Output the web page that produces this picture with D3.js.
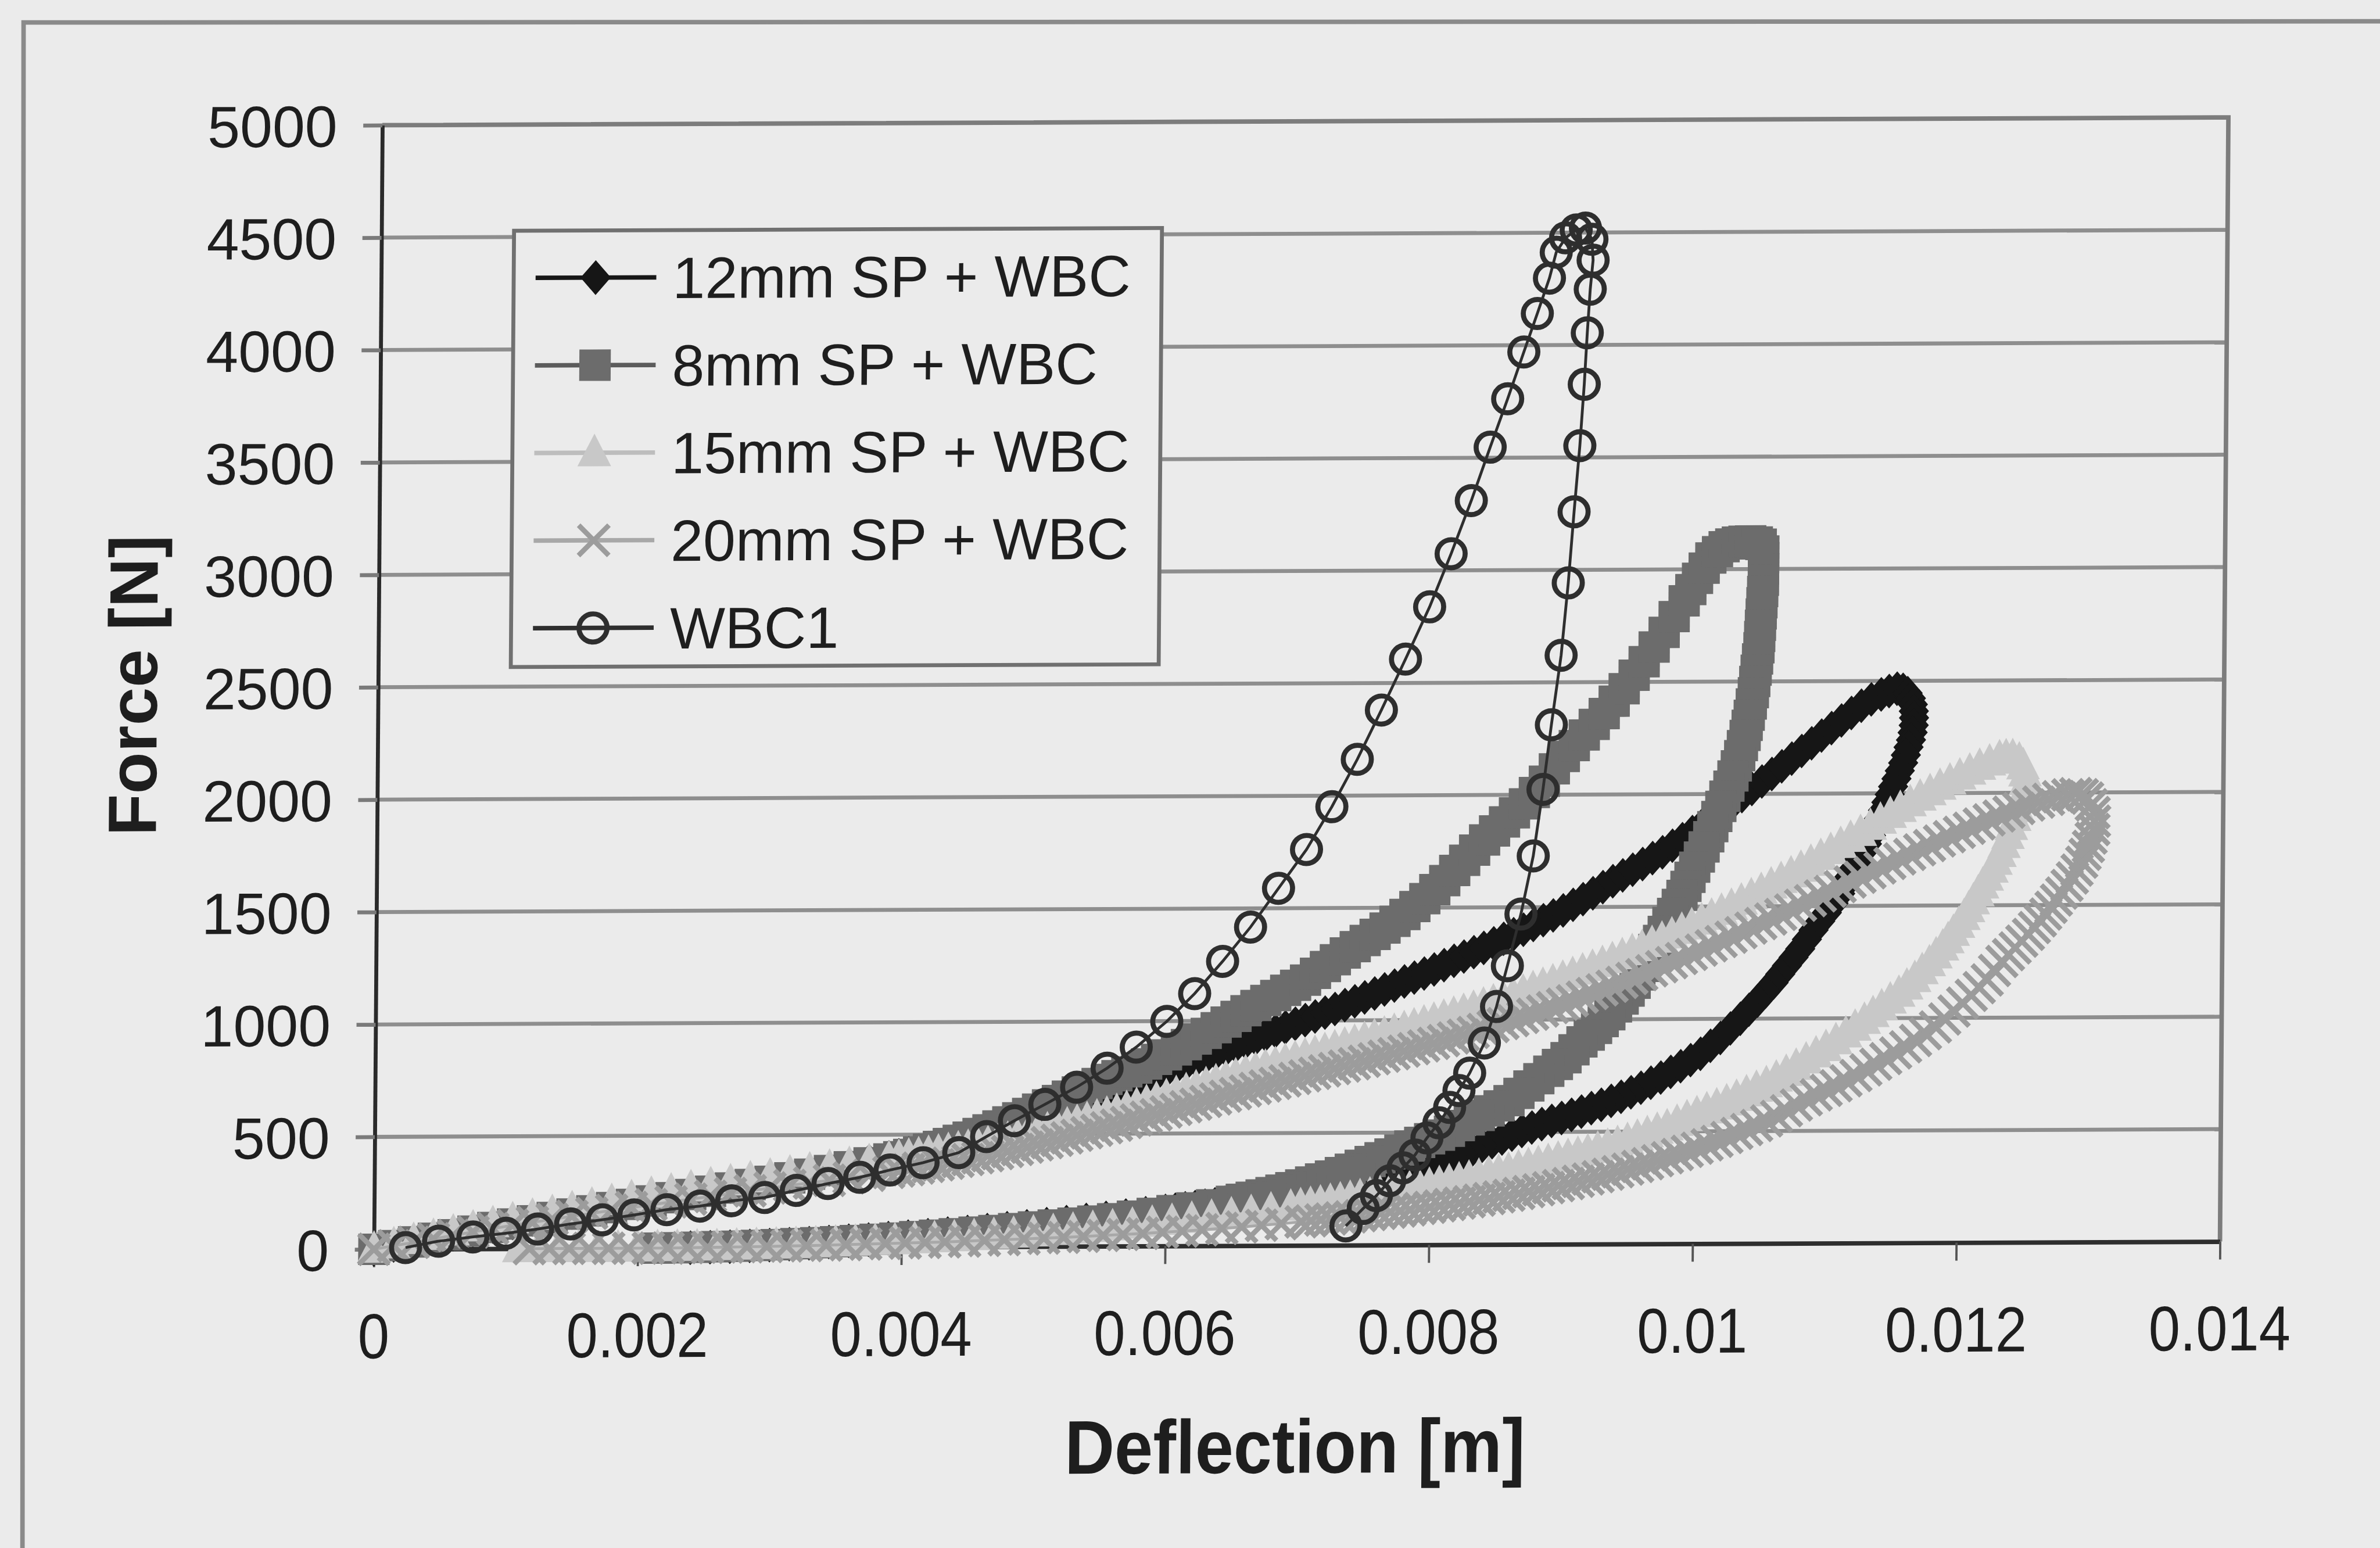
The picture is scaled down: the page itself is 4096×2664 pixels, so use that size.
<!DOCTYPE html>
<html>
<head>
<meta charset="utf-8">
<script src="https://cdn.jsdelivr.net/npm/d3@7"></script>
<style>
  html, body { margin: 0; padding: 0; background: #ebebeb; }
  svg { display: block; }
  text { font-family: "Liberation Sans", Arial, Helvetica, sans-serif; fill: #1e1e1e; }
</style>
</head>
<body>
<script>
// ---- axis ticks ----
const forceTicks = [0, 500, 1000, 1500, 2000, 2500, 3000, 3500, 4000, 4500, 5000];
const deflectionTicks = [0, 0.002, 0.004, 0.006, 0.008, 0.01, 0.012, 0.014];

// ---- series names ----
const seriesNames = ["12mm SP + WBC", "8mm SP + WBC", "15mm SP + WBC", "20mm SP + WBC", "WBC1"];

// ---- force [N] vs deflection [m], loading then unloading ----
const sp12 = [[0,0],[0.00015,17],[0.0003,33],[0.00045,50],[0.0006,66],[0.00075,83],[0.0009,99],[0.00105,115],[0.0012,130],[0.00135,145],[0.0015,160],[0.00165,175],[0.0018,190],[0.00195,205],[0.0021,219],[0.00225,233],[0.0024,246],[0.00255,260],[0.0027,273],[0.00285,287],[0.003,300],[0.00315,316],[0.0033,332],[0.00345,348],[0.0036,365],[0.00375,382],[0.0039,399],
[0.003975,408],[0.00405,417],[0.004125,428],[0.0042,440],[0.004275,451],[0.00435,462],[0.004425,473],[0.0045,485],[0.004575,499],[0.00465,513],[0.004725,527],[0.0048,542],[0.004875,557],[0.00495,572],[0.005025,586],[0.0051,600],[0.005175,615],[0.00525,630],[0.005325,644],[0.0054,658],[0.005475,672],[0.00555,686],[0.005625,700],[0.0057,715],[0.005775,730],[0.00585,746],[0.005925,762],[0.006,778],[0.006075,794],[0.00615,810],[0.006225,825],[0.0063,840],[0.006375,856],[0.00645,872],[0.006525,888],[0.0066,905],[0.006675,921],[0.00675,938],[0.006825,954],[0.0069,970],[0.006975,986],[0.00705,1002],[0.007125,1018],[0.0072,1035],[0.007275,1051],[0.00735,1068],[0.007425,1085],[0.0075,1102],[0.007575,1119],[0.00765,1137],[0.007725,1154],[0.0078,1172],[0.007875,1189],[0.00795,1207],[0.008025,1225],[0.0081,1244],[0.008175,1263],[0.00825,1282],[0.008325,1301],[0.0084,1320],[0.008475,1340],[0.00855,1360],[0.008625,1380],[0.0087,1400],[0.008775,1421],[0.00885,1442],[0.008925,1463],[0.009,1485],[0.009075,1510],[0.00915,1535],[0.009225,1561],[0.0093,1588],[0.009375,1614],[0.00945,1640],[0.009525,1665],[0.0096,1690],[0.009675,1716],[0.00975,1742],[0.009825,1771],[0.0099,1800],[0.009975,1831],[0.01005,1862],[0.010125,1893],[0.0102,1925],[0.010275,1957],[0.01035,1990],[0.010425,2022],[0.0105,2055],[0.010575,2088],[0.01065,2122],[0.010725,2156],[0.0108,2190],[0.010875,2224],[0.01095,2258],[0.011025,2291],[0.0111,2325],[0.011175,2358],[0.01125,2390],[0.011325,2418],[0.0114,2440],[0.01146,2455],[0.01152,2465],[0.011565,2460],[0.0116,2445],[0.011625,2422],[0.01164,2395],[0.011648,2365],[0.01165,2335],[0.011648,2302],[0.01164,2270],[0.011628,2237],[0.01161,2205],[0.01159,2170],[0.01157,2135],[0.011545,2100],[0.01152,2065],[0.011495,2030],[0.01147,1995],[0.011445,1960],[0.01142,1925],[0.01139,1888],[0.01136,1850],[0.01133,1812],[0.0113,1775],[0.011265,1738],[0.01123,1700],[0.0112,1665],[0.01117,1630],[0.011135,1592],[0.0111,1555],[0.01105,1512],[0.011,1470],[0.01095,1432],[0.0109,1393],[0.01085,1352],[0.0108,1310],[0.01075,1272],[0.0107,1235],[0.01065,1198],[0.0106,1160],[0.01054,1120],[0.01048,1080],[0.010415,1040],[0.01035,1000],[0.010275,957],[0.0102,915],[0.010125,880],[0.01005,845],[0.009975,817],[0.0099,790],[0.009825,765],[0.00975,740],[0.009675,717],[0.0096,695],[0.009525,675],[0.00945,655],[0.009375,637],[0.0093,620],[0.009225,605],[0.00915,590],[0.009075,576],[0.009,562],[0.008925,549],[0.00885,535],[0.008775,520],[0.0087,505],[0.008625,489],[0.00855,472],[0.008475,456],[0.0084,440],[0.008325,422],[0.00825,405],[0.008175,390],[0.0081,375],[0.008025,362],[0.00795,350],[0.007875,339],[0.0078,328],[0.007725,319],[0.00765,310],[0.007575,301],[0.0075,292],[0.007425,283],[0.00735,275],[0.007275,266],[0.0072,258],[0.007125,250],[0.00705,242],[0.006975,235],[0.0069,228],[0.006825,221],[0.00675,215],[0.006675,208],[0.0066,202],[0.006525,196],[0.00645,190],[0.006375,184],[0.0063,178],[0.006225,172],[0.00615,167],[0.006075,161],[0.006,156],[0.00585,146],[0.0057,136],[0.00555,126],[0.0054,117],[0.00525,108],[0.0051,99],[0.00495,90],[0.0048,82],[0.00465,74],[0.0045,66],[0.00435,59],[0.0042,52],[0.00405,46],[0.0039,40],[0.00375,34],[0.0036,29],[0.00345,24],[0.0033,19],[0.00315,15],[0.003,11],[0.00285,8],[0.0027,5],[0.00255,3],[0.0024,1]];

const sp8 = [[0,0],[0.00015,16],[0.0003,32],[0.00045,48],[0.0006,63],[0.00075,79],[0.0009,95],[0.00105,110],[0.0012,124],[0.00135,138],[0.0015,153],[0.00165,167],[0.0018,181],[0.00195,195],[0.0021,210],[0.00225,224],[0.0024,238],[0.00255,252],[0.0027,266],[0.00285,281],[0.003,295],[0.00315,310],[0.0033,326],[0.00345,342],[0.0036,358],[0.00375,375],[0.0039,392],
[0.003975,402],[0.00405,412],[0.004125,423],[0.0042,435],[0.004275,447],[0.00435,460],[0.004425,474],[0.0045,488],[0.004575,504],[0.00465,520],[0.004725,537],[0.0048,555],[0.004875,573],[0.00495,592],[0.005025,611],[0.0051,630],[0.005175,649],[0.00525,668],[0.005325,687],[0.0054,706],[0.005475,724],[0.00555,742],[0.005625,758],[0.0057,775],[0.005775,792],[0.00585,810],[0.005925,830],[0.006,850],[0.006075,872],[0.00615,895],[0.006225,920],[0.0063,945],[0.006375,970],[0.00645,995],[0.006525,1020],[0.0066,1045],[0.006675,1068],[0.00675,1090],[0.006825,1112],[0.0069,1135],[0.006975,1157],[0.00705,1180],[0.007125,1210],[0.0072,1240],[0.007275,1270],[0.00735,1300],[0.007425,1328],[0.0075,1355],[0.007575,1382],[0.00765,1410],[0.007725,1440],[0.0078,1470],[0.007875,1505],[0.00795,1540],[0.008025,1580],[0.0081,1620],[0.008175,1665],[0.00825,1710],[0.008325,1755],[0.0084,1800],[0.008475,1840],[0.00855,1880],[0.008625,1920],[0.0087,1960],[0.008775,2010],[0.00885,2060],[0.008925,2115],[0.009,2170],[0.009075,2218],[0.00915,2265],[0.009225,2312],[0.0093,2360],[0.009375,2415],[0.00945,2470],[0.009525,2530],[0.0096,2590],[0.009675,2655],[0.00975,2720],[0.009825,2790],[0.0099,2860],[0.00995,2910],[0.01,2960],[0.01005,3005],[0.0101,3050],[0.01015,3078],[0.0102,3100],[0.01025,3112],[0.0103,3120],[0.01035,3124],[0.0104,3125],[0.01045,3120],[0.01048,3110],[0.0105,3080],[0.0105,3050],[0.0105,3000],[0.0105,2950],[0.010495,2900],[0.01049,2850],[0.010485,2800],[0.01048,2750],[0.010475,2700],[0.01047,2650],[0.01046,2600],[0.01045,2550],[0.01044,2500],[0.01043,2450],[0.010415,2400],[0.0104,2350],[0.010385,2305],[0.01037,2260],[0.01035,2215],[0.01033,2170],[0.010305,2125],[0.01028,2080],[0.01025,2035],[0.01022,1990],[0.01019,1945],[0.01016,1900],[0.01013,1855],[0.0101,1810],[0.010065,1765],[0.01003,1720],[0.009995,1675],[0.00996,1630],[0.00993,1590],[0.0099,1550],[0.009865,1510],[0.00983,1470],[0.009795,1430],[0.00976,1390],[0.009725,1350],[0.00969,1310],[0.009655,1272],[0.00962,1235],[0.009585,1197],[0.00955,1160],[0.009505,1125],[0.00946,1090],[0.00941,1055],[0.00936,1020],[0.00931,990],[0.00926,960],[0.009205,930],[0.00915,900],[0.00909,865],[0.00903,830],[0.008965,800],[0.0089,770],[0.008825,737],[0.00875,705],[0.008675,672],[0.0086,640],[0.008525,617],[0.00845,595],[0.008375,575],[0.0083,555],[0.008225,530],[0.00815,505],[0.008075,488],[0.008,472],[0.007925,456],[0.00785,440],[0.007775,422],[0.0077,405],[0.007625,388],[0.00755,372],[0.007475,355],[0.0074,338],[0.007325,323],[0.00725,308],[0.007175,295],[0.0071,282],[0.007025,269],[0.00695,257],[0.006875,246],[0.0068,235],[0.006725,225],[0.00665,215],[0.006575,206],[0.0065,197],[0.00635,182],[0.0062,169],[0.00605,157],[0.0059,145],[0.00575,133],[0.0056,122],[0.00545,112],[0.0053,103],[0.00515,95],[0.005,87],[0.00485,80],[0.0047,72],[0.00455,65],[0.0044,58],[0.00425,52],[0.0041,46],[0.00395,40],[0.0038,35],[0.00365,30],[0.0035,25],[0.00335,21],[0.0032,17],[0.00305,13],[0.0029,10],[0.00275,7],[0.0026,5],[0.00245,3],[0.0023,1],[0.00215,0]];

const sp15 = [[0,0],[0.00015,19],[0.0003,38],[0.00045,56],[0.0006,75],[0.00075,93],[0.0009,111],[0.00105,128],[0.0012,144],[0.00135,160],[0.0015,176],[0.00165,192],[0.0018,208],[0.00195,224],[0.0021,239],[0.00225,253],[0.0024,267],[0.00255,280],[0.0027,293],[0.00285,306],[0.003,318],[0.00315,331],[0.0033,344],[0.00345,356],[0.0036,368],[0.00375,380],[0.0039,392],
[0.003975,398],[0.00405,404],[0.004125,410],[0.0042,416],[0.004275,422],[0.00435,428],[0.004425,435],[0.0045,442],[0.004575,450],[0.00465,458],[0.004725,467],[0.0048,477],[0.004875,487],[0.00495,497],[0.005025,507],[0.0051,518],[0.005175,529],[0.00525,540],[0.005325,551],[0.0054,563],[0.005475,575],[0.00555,587],[0.005625,599],[0.0057,612],[0.005775,625],[0.00585,638],[0.005925,651],[0.006,664],[0.006075,677],[0.00615,690],[0.006225,703],[0.0063,716],[0.006375,729],[0.00645,742],[0.006525,755],[0.0066,768],[0.006675,780],[0.00675,793],[0.006825,805],[0.0069,818],[0.006975,830],[0.00705,842],[0.007125,854],[0.0072,866],[0.007275,878],[0.00735,890],[0.007425,902],[0.0075,914],[0.007575,926],[0.00765,938],[0.007725,950],[0.0078,962],[0.007875,974],[0.00795,987],[0.008025,999],[0.0081,1012],[0.008175,1025],[0.00825,1038],[0.008325,1051],[0.0084,1065],[0.008475,1079],[0.00855,1093],[0.008625,1107],[0.0087,1122],[0.008775,1137],[0.00885,1152],[0.008925,1167],[0.009,1183],[0.009075,1199],[0.00915,1215],[0.009225,1231],[0.0093,1248],[0.009375,1265],[0.00945,1282],[0.009525,1300],[0.0096,1318],[0.009675,1336],[0.00975,1355],[0.009825,1374],[0.0099,1394],[0.009975,1414],[0.01005,1435],[0.010125,1456],[0.0102,1478],[0.010275,1500],[0.01035,1523],[0.010425,1546],[0.0105,1570],[0.010575,1594],[0.01065,1618],[0.010725,1643],[0.0108,1668],[0.010875,1694],[0.01095,1720],[0.011025,1746],[0.0111,1773],[0.011175,1800],[0.01125,1826],[0.011325,1853],[0.0114,1880],[0.011475,1906],[0.01155,1932],[0.011625,1957],[0.0117,1982],[0.011775,2006],[0.01185,2030],[0.011925,2053],[0.012,2075],[0.012075,2097],[0.01215,2118],[0.012225,2137],[0.0123,2155],[0.01235,2160],[0.0124,2160],[0.01245,2145],[0.01248,2120],[0.012495,2088],[0.0125,2050],[0.01249,2010],[0.01247,1970],[0.012445,1930],[0.01242,1890],[0.012395,1850],[0.01237,1810],[0.01234,1770],[0.01231,1730],[0.01228,1695],[0.01225,1660],[0.012215,1625],[0.01218,1590],[0.012145,1555],[0.01211,1520],[0.012075,1485],[0.01204,1450],[0.012,1415],[0.01196,1380],[0.01192,1347],[0.01188,1315],[0.01183,1280],[0.01178,1245],[0.011725,1210],[0.01167,1175],[0.01161,1142],[0.01155,1110],[0.011485,1080],[0.01142,1050],[0.011355,1020],[0.01129,990],[0.01122,960],[0.01115,930],[0.011075,900],[0.011,870],[0.010925,842],[0.01085,815],[0.010775,787],[0.0107,760],[0.010625,735],[0.01055,710],[0.010475,690],[0.0104,670],[0.010325,650],[0.01025,630],[0.010175,612],[0.0101,595],[0.010025,578],[0.00995,560],[0.009875,540],[0.0098,520],[0.009725,505],[0.00965,490],[0.009575,475],[0.0095,460],[0.009425,447],[0.00935,435],[0.009275,422],[0.0092,410],[0.009125,400],[0.00905,390],[0.008975,379],[0.0089,368],[0.008825,359],[0.00875,350],[0.008675,340],[0.0086,330],[0.008525,321],[0.00845,313],[0.008375,304],[0.0083,296],[0.008225,288],[0.00815,280],[0.008075,272],[0.008,265],[0.007925,257],[0.00785,250],[0.007775,243],[0.0077,236],[0.007625,229],[0.00755,222],[0.007475,215],[0.0074,208],[0.007325,201],[0.00725,195],[0.007175,188],[0.0071,182],[0.007025,176],[0.00695,170],[0.0068,158],[0.00665,147],[0.0065,137],[0.00635,127],[0.0062,118],[0.00605,109],[0.0059,101],[0.00575,93],[0.0056,86],[0.00545,79],[0.0053,72],[0.00515,66],[0.005,60],[0.00485,55],[0.0047,50],[0.00455,45],[0.0044,40],[0.00425,36],[0.0041,32],[0.00395,28],[0.0038,25],[0.00365,22],[0.0035,19],[0.00335,16],[0.0032,13],[0.00305,11],[0.0029,9],[0.00275,7],[0.0026,5],[0.00245,4],[0.0023,3],[0.00215,2],[0.002,1],[0.00185,0],[0.0017,0],[0.00155,0],[0.0014,0],[0.00125,0],[0.0011,0]];

const sp20 = [[0,0],[0.00015,15],[0.0003,30],[0.00045,45],[0.0006,60],[0.00075,75],[0.0009,90],[0.00105,104],[0.0012,117],[0.00135,130],[0.0015,143],[0.00165,156],[0.0018,169],[0.00195,181],[0.0021,193],[0.00225,205],[0.0024,217],[0.00255,229],[0.0027,241],[0.00285,253],[0.003,265],[0.00315,276],[0.0033,287],[0.00345,298],[0.0036,309],[0.00375,320],[0.0039,332],
[0.003975,338],[0.00405,344],[0.004125,351],[0.0042,358],[0.004275,365],[0.00435,372],[0.004425,380],[0.0045,388],[0.004575,396],[0.00465,405],[0.004725,414],[0.0048,423],[0.004875,432],[0.00495,442],[0.005025,452],[0.0051,462],[0.005175,472],[0.00525,483],[0.005325,494],[0.0054,505],[0.005475,516],[0.00555,527],[0.005625,538],[0.0057,550],[0.005775,561],[0.00585,573],[0.005925,584],[0.006,596],[0.006075,607],[0.00615,619],[0.006225,630],[0.0063,642],[0.006375,653],[0.00645,665],[0.006525,676],[0.0066,688],[0.006675,699],[0.00675,710],[0.006825,721],[0.0069,732],[0.006975,743],[0.00705,754],[0.007125,765],[0.0072,776],[0.007275,786],[0.00735,797],[0.007425,807],[0.0075,818],[0.007575,829],[0.00765,840],[0.007725,851],[0.0078,862],[0.007875,873],[0.00795,885],[0.008025,896],[0.0081,908],[0.008175,920],[0.00825,932],[0.008325,944],[0.0084,957],[0.008475,970],[0.00855,983],[0.008625,996],[0.0087,1010],[0.008775,1024],[0.00885,1038],[0.008925,1053],[0.009,1068],[0.009075,1083],[0.00915,1099],[0.009225,1115],[0.0093,1131],[0.009375,1147],[0.00945,1164],[0.009525,1181],[0.0096,1198],[0.009675,1215],[0.00975,1233],[0.009825,1251],[0.0099,1269],[0.009975,1287],[0.01005,1306],[0.010125,1325],[0.0102,1344],[0.010275,1363],[0.01035,1383],[0.010425,1403],[0.0105,1423],[0.010575,1443],[0.01065,1463],[0.010725,1483],[0.0108,1504],[0.010875,1524],[0.01095,1545],[0.011025,1565],[0.0111,1586],[0.011175,1606],[0.01125,1627],[0.011325,1647],[0.0114,1668],[0.011475,1688],[0.01155,1708],[0.011625,1728],[0.0117,1748],[0.011775,1767],[0.01185,1787],[0.011925,1806],[0.012,1825],[0.012075,1843],[0.01215,1862],[0.012225,1880],[0.0123,1897],[0.012375,1914],[0.01245,1930],[0.012525,1945],[0.0126,1958],[0.012675,1970],[0.01275,1982],[0.01282,1990],[0.01288,1995],[0.01293,1990],[0.01297,1975],[0.013,1945],[0.01302,1910],[0.013025,1872],[0.01302,1835],[0.013,1797],[0.01298,1760],[0.012955,1725],[0.01293,1690],[0.012895,1655],[0.01286,1620],[0.01282,1587],[0.01278,1553],[0.01274,1522],[0.0127,1490],[0.01266,1460],[0.01262,1430],[0.012575,1400],[0.01253,1370],[0.01248,1340],[0.01243,1310],[0.01238,1280],[0.01233,1250],[0.012275,1210],[0.01222,1168],[0.01216,1134],[0.0121,1100],[0.012035,1065],[0.01197,1030],[0.0119,995],[0.01183,960],[0.011755,930],[0.01168,900],[0.011605,872],[0.01153,845],[0.011455,820],[0.01138,795],[0.011305,770],[0.01123,745],[0.011155,722],[0.01108,700],[0.011005,680],[0.01093,660],[0.010855,638],[0.01078,615],[0.010705,590],[0.01063,565],[0.010555,545],[0.01048,525],[0.010405,507],[0.01033,490],[0.010255,472],[0.01018,455],[0.010105,440],[0.01003,425],[0.009955,411],[0.00988,397],[0.009805,383],[0.00973,370],[0.009655,357],[0.00958,345],[0.009505,333],[0.00943,322],[0.009355,311],[0.00928,300],[0.009205,290],[0.00913,280],[0.009055,270],[0.00898,261],[0.008905,252],[0.00883,243],[0.008755,235],[0.00868,227],[0.008605,219],[0.00853,212],[0.008455,205],[0.00838,198],[0.008305,191],[0.00823,185],[0.008155,179],[0.00808,173],[0.008005,167],[0.00793,162],[0.007855,156],[0.00778,151],[0.007705,146],[0.00763,141],[0.007555,136],[0.00748,131],[0.007405,126],[0.00733,122],[0.007255,117],[0.00718,113],[0.007105,109],[0.00703,105],[0.00688,97],[0.00673,90],[0.00658,83],[0.00643,77],[0.00628,71],[0.00613,66],[0.00598,61],[0.00583,56],[0.00568,52],[0.00553,48],[0.00538,44],[0.00523,40],[0.00508,37],[0.00493,34],[0.00478,31],[0.00463,28],[0.00448,25],[0.00433,22],[0.00418,20],[0.00403,18],[0.00388,16],[0.00373,14],[0.00358,12],[0.00343,10],[0.00328,8],[0.00313,7],[0.00298,5],[0.00283,4],[0.00268,3],[0.00253,2],[0.00238,1],[0.00223,0],[0.00208,0],[0.00193,0],[0.00178,0],[0.00163,0],[0.00148,0],[0.00133,0],[0.00118,0]];

const wbc1 = [[0.00024,7],[0.00049,35],[0.00075,53],[0.001,69],[0.00124,87],[0.00149,109],[0.00173,127],[0.00197,148],[0.00222,171],[0.00247,186],[0.00271,209],[0.00296,223],[0.0032,254],[0.00344,284],[0.00368,311],[0.00391,343],[0.00416,375],[0.00443,419],[0.00464,490],[0.00485,560],[0.00508,632],[0.00532,708],[0.00555,792],[0.00577,885],[0.006,999],[0.00621,1122],[0.00642,1265],[0.00663,1417],[0.00684,1589],[0.00705,1761],[0.00724,1951],[0.00743,2161],[0.00761,2380],[0.00779,2606],[0.00797,2838],[0.00813,3074],[0.00828,3310],[0.00842,3547],[0.00855,3762],[0.00867,3970],[0.00877,4141],[0.00886,4298],[0.00891,4413],[0.00898,4477],[0.00906,4512],[0.00913,4520],[0.00918,4470],[0.00919,4377],[0.00917,4248],[0.00915,4054],[0.00913,3825],[0.0091,3552],[0.00906,3258],[0.00902,2942],[0.00897,2620],[0.0089,2311],[0.00884,2024],[0.00877,1728],[0.00868,1470],[0.00858,1240],[0.0085,1059],[0.00841,897],[0.0083,763],[0.00822,686],[0.00815,611],[0.00807,543],[0.00798,476],[0.00789,400],[0.0078,343],[0.0077,286],[0.0076,220],[0.0075,163],[0.00737,86]];

// ---- layout (drawn at the source size, then scaled to the window) ----
const SRC_W = 4239, SRC_H = 2757;
const k = 4096 / SRC_W;
const PW = 3288, PH = 2002;           // plot area
const FONT = '"Liberation Sans", Arial, Helvetica, sans-serif';

const svg = d3.select("body").append("svg")
  .attr("width", 4096).attr("height", 2664)
  .attr("viewBox", "0 0 4096 2664");

const root = svg.append("g").attr("transform", `scale(${k})`);

root.append("rect").attr("width", SRC_W).attr("height", SRC_H).attr("fill", "#ebebeb");

// chart frame
root.append("path")
  .attr("d", "M40,2757 L42,40 C600,50 2000,48 4239,38")
  .attr("fill", "none").attr("stroke", "#8a8a8a").attr("stroke-width", 8);

// plot group: the printed page sits slightly skewed
const plot = root.append("g").attr("transform", "matrix(1,-0.0042,-0.0075,1,681,223)");

const x = d3.scaleLinear().domain([0, 0.014]).range([0, PW]);
const y = d3.scaleLinear().domain([0, 5000]).range([PH, 0]);

// horizontal gridlines
plot.append("g").selectAll("line")
  .data(forceTicks.filter(d => d > 0 && d < 5000))
  .join("line")
  .attr("x1", 0).attr("x2", PW)
  .attr("y1", d => y(d)).attr("y2", d => y(d))
  .attr("stroke", "#8e8e8e").attr("stroke-width", 7);

// plot-area border (top and right)
plot.append("path")
  .attr("d", `M0,${y(5000)} L${x(0.014)},${y(5000)} L${x(0.014)},${y(0)}`)
  .attr("fill", "none").attr("stroke", "#7c7c7c").attr("stroke-width", 8);

// y axis
const yAxis = plot.append("g")
  .call(d3.axisLeft(y).tickValues(forceTicks).tickSize(34).tickSizeOuter(0).tickPadding(46).tickFormat(d3.format("d")));
yAxis.select(".domain").attr("stroke", "#2a2a2a").attr("stroke-width", 7);
yAxis.selectAll(".tick line").attr("stroke", "#7a7a7a").attr("stroke-width", 7);
yAxis.selectAll(".tick text")
  .attr("font-family", FONT).attr("font-size", 104).attr("fill", "#1e1e1e").attr("dy", "0.36em");

// x axis
const xAxis = plot.append("g").attr("transform", `translate(0,${PH})`)
  .call(d3.axisBottom(x).tickValues(deflectionTicks).tickSize(32).tickSizeOuter(0)
    .tickFormat(d => String(+d.toFixed(3))));
xAxis.select(".domain").attr("stroke", "#2e2e2e").attr("stroke-width", 8);
xAxis.selectAll(".tick line").attr("stroke", "#555").attr("stroke-width", 4);
xAxis.selectAll(".tick text")
  .attr("font-family", FONT).attr("font-size", 101).attr("fill", "#1e1e1e")
  .attr("y", 0).attr("dy", 0)
  .attr("transform", "translate(0,194) scale(1,1.12)");

// axis titles
plot.append("text")
  .attr("transform", "translate(-394,996) rotate(-90)")
  .attr("text-anchor", "middle")
  .attr("font-family", FONT).attr("font-weight", "bold").attr("font-size", 122)
  .text("Force [N]");

plot.append("text")
  .attr("transform", "translate(1643,2407) scale(1,1.1)")
  .attr("text-anchor", "middle")
  .attr("font-family", FONT).attr("font-weight", "bold").attr("font-size", 123)
  .text("Deflection [m]");

// ---- marker shapes ----
const markerPaths = {
  diamond: "M0,-31L27,0L0,31L-27,0Z",
  square: "M-28,-28H28V28H-28Z",
  triangle: "M0,-34L30,24L-30,24Z",
  cross: "M-27,-27L27,27M27,-27L-27,27",
  circle: "M-25,0A25,25 0 1,0 25,0A25,25 0 1,0 -25,0Z"
};

const series = [
  { name: seriesNames[0], data: sp12, line: "#161616", fill: "#161616", stroke: "none", marker: "diamond" },
  { name: seriesNames[1], data: sp8,  line: "#5c5c5c", fill: "#6c6c6c", stroke: "none", marker: "square" },
  { name: seriesNames[2], data: sp15, line: "#bdbdbd", fill: "#c8c8c8", stroke: "none", marker: "triangle" },
  { name: seriesNames[3], data: sp20, line: "#a8a8a8", fill: "none", stroke: "#9c9c9c", marker: "cross" },
  { name: seriesNames[4], data: wbc1, line: "#2e2e2e", fill: "none", stroke: "#2e2e2e", marker: "circle" }
];

const line = d3.line().x(d => x(d[0])).y(d => y(d[1]));

function styleMarker(sel, s) {
  sel.attr("d", markerPaths[s.marker])
    .attr("fill", s.fill)
    .attr("stroke", s.stroke)
    .attr("stroke-width", s.stroke === "none" ? 0 : 9);
}

series.forEach(s => {
  const g = plot.append("g");
  g.append("path").attr("d", line(s.data))
    .attr("fill", "none").attr("stroke", s.line).attr("stroke-width", 5);
  g.selectAll("path.mk").data(s.data).join("path")
    .attr("class", "mk")
    .attr("transform", d => `translate(${x(d[0])},${y(d[1])})`)
    .call(styleMarker, s);
});

// ---- legend ----
const legend = plot.append("g");
legend.append("rect")
  .attr("x", 236).attr("y", 189).attr("width", 1154).attr("height", 777)
  .attr("fill", "#ebebeb").attr("stroke", "#707070").attr("stroke-width", 7);

series.forEach((s, i) => {
  const cy = 273 + i * 156;
  const row = legend.append("g").attr("transform", `translate(0,${cy})`);
  row.append("line").attr("x1", 275).attr("x2", 490).attr("y1", 0).attr("y2", 0)
    .attr("stroke", s.line).attr("stroke-width", 8);
  row.append("path").attr("transform", "translate(382,0)").call(styleMarker, s);
  row.append("text").attr("x", 519).attr("y", 37)
    .attr("font-family", FONT).attr("font-size", 104).attr("fill", "#1e1e1e")
    .text(s.name);
});
</script>
</body>
</html>
